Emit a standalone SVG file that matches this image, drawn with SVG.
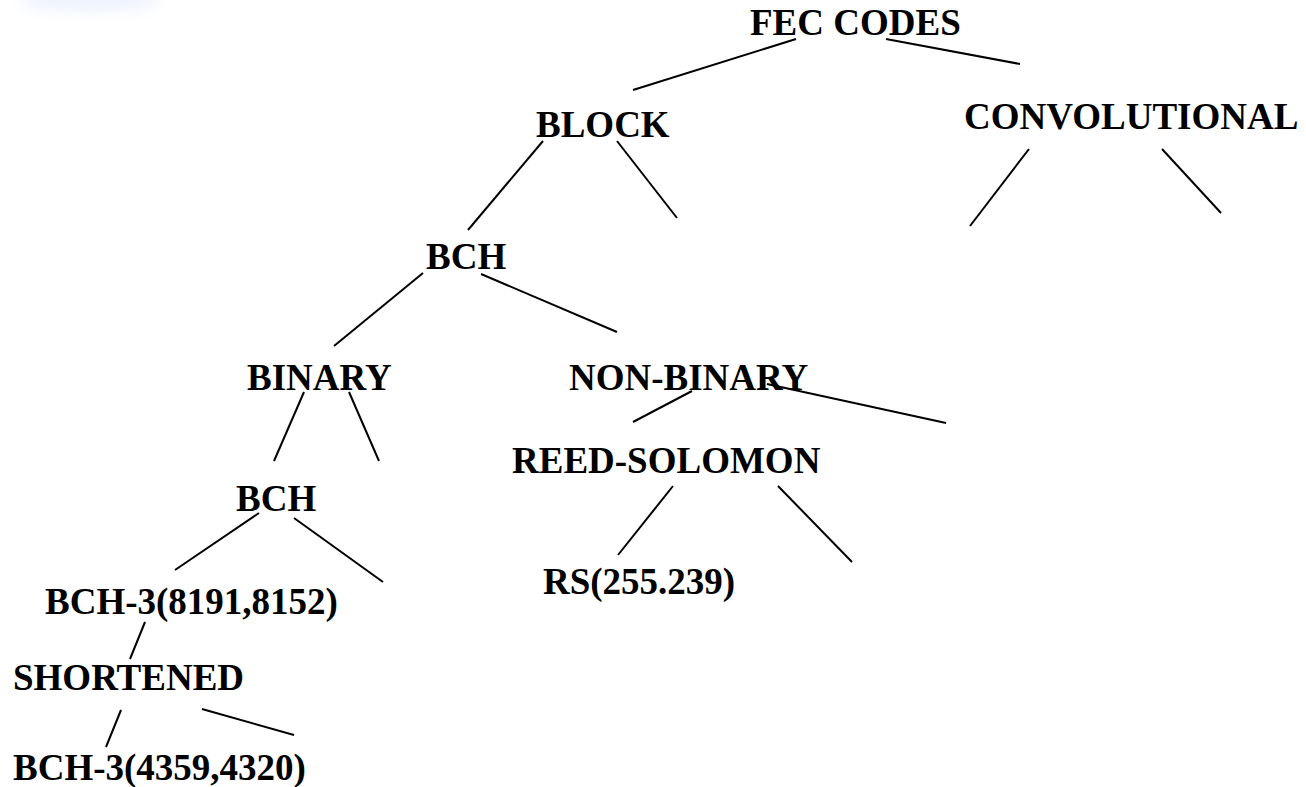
<svg xmlns="http://www.w3.org/2000/svg" width="1306" height="787" viewBox="0 0 1306 787">
  <style>
    .lbl { font-family: "Liberation Serif", "Times New Roman", serif; font-weight: bold; font-size: 37px; fill: #000; }
    .edge { stroke: #000; stroke-width: 2; stroke-linecap: butt; fill: none; }
  </style>
  <defs>
    <filter id="soft" x="-50%" y="-50%" width="200%" height="200%">
      <feGaussianBlur stdDeviation="7"/>
    </filter>
  </defs>
  <rect width="1306" height="787" fill="#fff"/>
  <!-- faint corner decoration -->
  <ellipse cx="90" cy="0" rx="70" ry="12" fill="#d6e0fa" opacity="0.4" filter="url(#soft)"/>

  <g id="connectors">
    <line class="edge" x1="796" y1="39" x2="633" y2="90"/>
    <line class="edge" x1="886" y1="39" x2="1020" y2="64"/>
    <line class="edge" x1="543" y1="141" x2="468" y2="230"/>
    <line class="edge" x1="617" y1="141" x2="677" y2="218"/>
    <line class="edge" x1="1029" y1="149" x2="970" y2="226"/>
    <line class="edge" x1="1162" y1="149" x2="1221" y2="213"/>
    <line class="edge" x1="423" y1="273" x2="334" y2="346"/>
    <line class="edge" x1="481" y1="274" x2="617" y2="332"/>
    <line class="edge" x1="304" y1="392" x2="274" y2="461"/>
    <line class="edge" x1="349" y1="392" x2="379" y2="461"/>
    <line class="edge" x1="692" y1="391" x2="633" y2="422"/>
    <line class="edge" x1="767" y1="384" x2="946" y2="423"/>
    <line class="edge" x1="673" y1="486" x2="618" y2="555"/>
    <line class="edge" x1="778" y1="486" x2="852" y2="562"/>
    <line class="edge" x1="259" y1="513" x2="175" y2="570"/>
    <line class="edge" x1="294" y1="518" x2="383" y2="582"/>
    <line class="edge" x1="145" y1="622" x2="130" y2="659"/>
    <line class="edge" x1="121" y1="710" x2="106" y2="747"/>
    <line class="edge" x1="202" y1="709" x2="294" y2="735"/>
  </g>

  <g id="fec-codes"><text class="lbl" x="750" y="35">FEC CODES</text></g>
  <g id="block"><text class="lbl" x="536" y="137">BLOCK</text></g>
  <g id="convolutional"><text class="lbl" x="964" y="129">CONVOLUTIONAL</text></g>
  <g id="bch"><text class="lbl" x="426" y="269">BCH</text></g>
  <g id="binary"><text class="lbl" x="247" y="390">BINARY</text></g>
  <g id="non-binary"><text class="lbl" x="569" y="390">NON-BINARY</text></g>
  <g id="reed-solomon"><text class="lbl" x="512" y="473">REED-SOLOMON</text></g>
  <g id="rs"><text class="lbl" x="543" y="594">RS(255.239)</text></g>
  <g id="bch-binary"><text class="lbl" x="236" y="511">BCH</text></g>
  <g id="bch-8191"><text class="lbl" x="45" y="614">BCH-3(8191,8152)</text></g>
  <g id="shortened"><text class="lbl" x="13" y="690">SHORTENED</text></g>
  <g id="bch-4359"><text class="lbl" x="13" y="780">BCH-3(4359,4320)</text></g>
</svg>
